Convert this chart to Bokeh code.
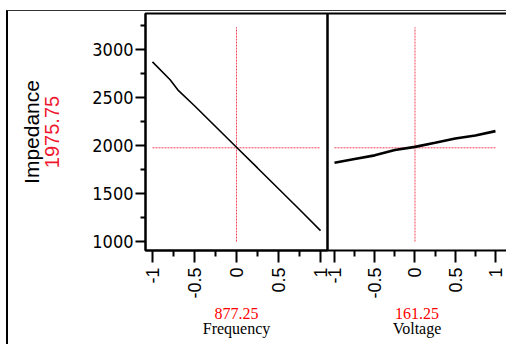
import math
from bokeh.plotting import figure
from bokeh.models import LinearAxis, FixedTicker, Range1d
from bokeh.layouts import row
from bokeh.embed import file_html
from bokeh.resources import INLINE

# ---- data -------------------------------------------------------------
factor_ticks = [-1, -0.5, 0, 0.5, 1]
factor_minor_ticks = [-0.75, -0.25, 0.25, 0.75]
factor_tick_labels = ["-1", "-0.5", "0", "0.5", "1"]
impedance_ticks = [1000, 1500, 2000, 2500, 3000]
impedance_minor_ticks = [1250, 1750, 2250, 2750, 3250]

freq_x = [-1, -0.79, -0.69, -0.5, -0.25, 0, 0.25, 0.5, 0.75, 1]
freq_impedance = [2870, 2684, 2570, 2413, 2197, 1981, 1766, 1549, 1334, 1114]
volt_x = [-1, -0.75, -0.5, -0.25, 0, 0.25, 0.5, 0.75, 1]
volt_impedance = [1821, 1859, 1897, 1952, 1985, 2028, 2073, 2104, 2149]

current_impedance = 1975.75
current_impedance_label = "1975.75"
current_frequency_label = "877.25"
current_voltage_label = "161.25"
factor_names = ["Frequency", "Voltage"]
response_name = "Impedance"
crosshair_factor_span = [-1, 1]
crosshair_impedance_span = [1000, 3230]
current_factor = [0, 0]

RED = "#f01830"
LABEL_RED = "#ff0000"
SANS = "Liberation Sans"
NARROW = "Liberation Sans Narrow, DejaVu Sans Condensed, Liberation Sans"
SERIF = "Liberation Serif"

y_range = Range1d(907, 3373)


def hide(ax):
    ax.major_tick_line_color = None
    ax.minor_tick_line_color = None
    ax.major_label_text_font_size = "0px"
    ax.major_tick_out = 0
    ax.minor_tick_out = 0
    ax.major_label_standoff = 0
    ax.axis_label_standoff = 0
    return ax


def factor_axis(value_label):
    ax = LinearAxis(
        ticker=FixedTicker(ticks=factor_ticks, minor_ticks=factor_minor_ticks),
        major_label_overrides={t: l for t, l in zip(factor_ticks, factor_tick_labels)},
        major_label_orientation=math.pi / 2,
        major_label_text_font=SANS,
        major_label_text_font_size="18px",
        major_label_text_color="#000000",
        major_label_standoff=5,
        major_tick_out=12,
        major_tick_in=0,
        minor_tick_out=6,
        minor_tick_in=0,
        major_tick_line_width=2,
        minor_tick_line_width=2,
        axis_line_width=2,
        axis_label=value_label,
        axis_label_text_color=LABEL_RED,
        axis_label_text_font=SERIF,
        axis_label_text_font_size="16px",
        axis_label_text_font_style="normal",
        axis_label_standoff=6,
    )
    return ax


def name_axis(name, font, size, standoff):
    ax = LinearAxis(
        ticker=FixedTicker(ticks=[]),
        axis_line_color=None,
        axis_label=name,
        axis_label_text_font_style="normal",
        axis_label_text_color="#000000",
    )
    hide(ax)
    ax.axis_label_text_font = font
    ax.axis_label_text_font_size = size
    ax.axis_label_standoff = standoff
    return ax


def crosshair(p):
    p.line(crosshair_factor_span, [current_impedance, current_impedance],
           line_color=RED, line_width=1, line_dash="2 1", line_alpha=0.8)
    p.line(current_factor, crosshair_impedance_span,
           line_color=RED, line_width=1, line_dash="2 1", line_alpha=0.8)


# ---- panel 1: Frequency ---------------------------------------------
p1 = figure(width=329, height=333, x_range=Range1d(-1.083, 1.083), y_range=y_range,
            x_axis_type=None, y_axis_type=None,
            output_backend="svg", toolbar_location=None,
            min_border_left=137, min_border_right=10, min_border_top=2, min_border_bottom=94)
p1.outline_line_color = "#000000"
p1.outline_line_width = 2
p1.outline_line_alpha = 1
p1.background_fill_color = "white"
p1.border_fill_color = "white"

yax = LinearAxis(
    ticker=FixedTicker(ticks=impedance_ticks, minor_ticks=impedance_minor_ticks),
    major_label_text_font=NARROW,
    major_label_text_font_size="18px",
    major_label_text_color="#000000",
    major_label_standoff=2,
    major_tick_out=10,
    major_tick_in=0,
    minor_tick_out=5,
    minor_tick_in=0,
    major_tick_line_width=2,
    minor_tick_line_width=2,
    axis_line_width=2,
    axis_label=current_impedance_label,
    axis_label_text_color=RED,
    axis_label_text_font=SANS,
    axis_label_text_font_size="20px",
    axis_label_text_font_style="normal",
    axis_label_standoff=30,
)
p1.add_layout(yax, "left")
p1.add_layout(name_axis(response_name, SANS, "21px", 0), "left")

p1.add_layout(factor_axis(current_frequency_label), "below")
p1.add_layout(name_axis(factor_names[0], SERIF, "16px", -2), "below")

crosshair(p1)
p1.line(freq_x, freq_impedance, line_color="black", line_width=1.6)

# ---- panel 2: Voltage -------------------------------------------------
p2 = figure(width=189, height=333, x_range=Range1d(-1.087, 1.137), y_range=y_range,
            x_axis_type=None, y_axis_type=None,
            output_backend="svg", toolbar_location=None,
            min_border_left=10, min_border_right=0, min_border_top=2, min_border_bottom=94)
p2.outline_line_color = None
p2.background_fill_color = None
p2.border_fill_color = None
p2.styles = {"margin-left": "-20px"}

p2.add_layout(hide(LinearAxis(ticker=FixedTicker(ticks=[]), axis_line_width=2)), "above")
p2.add_layout(hide(LinearAxis(ticker=FixedTicker(ticks=[]), axis_line_width=2)), "left")

p2.add_layout(factor_axis(current_voltage_label), "below")
p2.add_layout(name_axis(factor_names[1], SERIF, "16px", -2), "below")

crosshair(p2)
p2.line(volt_x, volt_impedance, line_color="black", line_width=2.6)

layout = row(p1, p2, styles={"margin-left": "6px", "margin-top": "10px",
                             "border-left": "2px solid #000000",
                             "border-top": "1px solid #333333"})

open("out.html", "w").write(file_html(layout, INLINE))
